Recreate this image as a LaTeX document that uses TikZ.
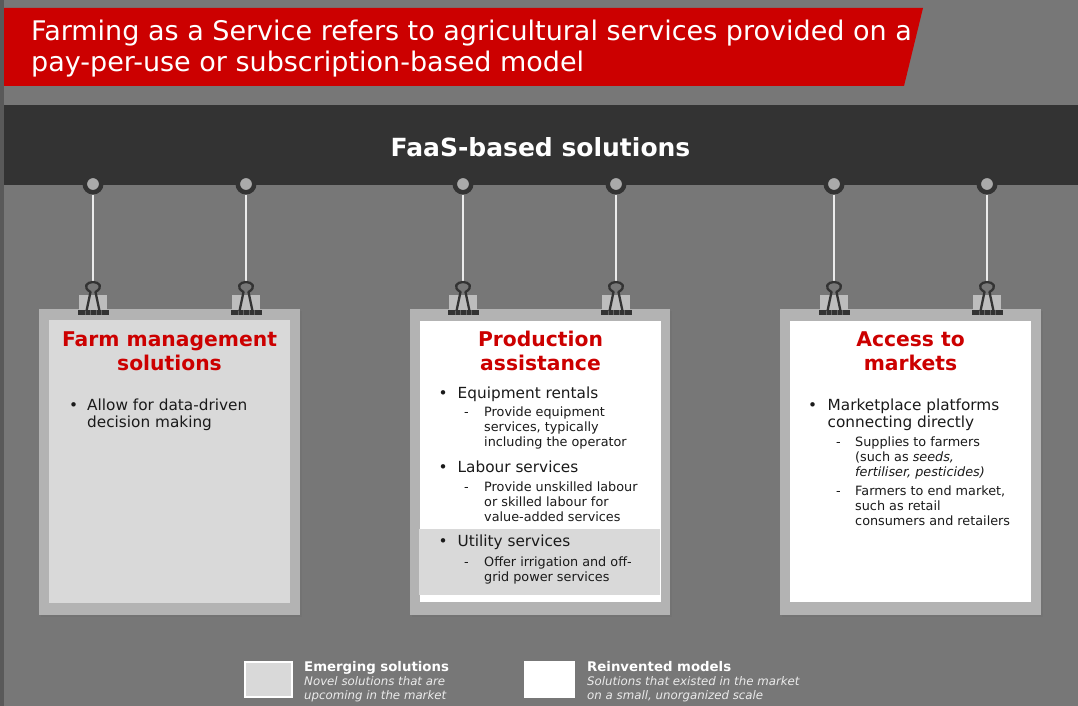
\documentclass[tikz,border=0pt]{standalone}
\usepackage{fontspec}
\setmainfont{DejaVu Sans}
\usepackage{tikz}
\usetikzlibrary{calc}
\definecolor{faasred}{HTML}{CC0000}
\definecolor{bggray}{HTML}{777777}
\definecolor{bardark}{HTML}{333333}
\definecolor{framegray}{HTML}{B3B3B3}
\definecolor{emerg}{HTML}{D9D9D9}
\definecolor{hooklight}{HTML}{AAAAAA}
\definecolor{clipgray}{HTML}{BDBDBD}
\definecolor{inkgray}{HTML}{1A1A1A}
\tikzstyle{hook} = [circle, draw=bardark, line width=4.5pt, fill=hooklight, inner sep=0pt, minimum size=16.5pt]
\tikzstyle{wire} = [draw=white!92!black, line width=2.2pt]
\tikzstyle{head} = [text=faasred, font=\bfseries\fontsize{20.3}{24}\selectfont, align=center, anchor=base, inner sep=0pt]
\tikzstyle{item} = [text=inkgray, font=\fontsize{15.3}{17.3}\selectfont, align=left, anchor=base west, inner sep=0pt]
\tikzstyle{sub} = [text=inkgray, font=\fontsize{12.8}{15}\selectfont, align=left, anchor=base west, inner sep=0pt]
\tikzstyle{legtext} = [text=white, align=left, anchor=base west, inner sep=0pt]

\begin{document}
\begin{tikzpicture}[x=1pt,y=-1pt]
		\useasboundingbox (0,0) rectangle (1078,706);
		% background, banner and bar
		\fill[bggray] (0,0) rectangle (1078,706);
		\fill[black!65] (0,0) rectangle (4,706);
		\fill[faasred] (4,8) -- (923,8) -- (904,86) -- (4,86) -- cycle;
		% base of a multi-line node = baseline of its last line
		\node[text=white, font=\fontsize{27}{31}\selectfont, align=left, anchor=base west, inner sep=0pt] (title) at (31,72)
			{Farming as a Service refers to agricultural services provided on a\\pay-per-use or subscription-based model};
		\fill[bardark] (4,105) rectangle (1078,185);
		\node[text=white, font=\bfseries\fontsize{25}{30}\selectfont, anchor=base, inner sep=0pt] (faas) at (540.5,156) {FaaS-based solutions};
		% hooks and wires
		\foreach \i/\x in {1/93,2/246,3/463,4/616,5/834,6/987}{
			\coordinate (c\i) at (\x,282);
			\node[hook] (h\i) at (\x,184) {};
			\draw[wire] (h\i) -- (c\i);
		}
		% boards
		\foreach \a/\b in {39/300,410/670,780/1041}{
			\fill[black!55] (\a+2,311) rectangle (\b+2,617);
			\fill[framegray] (\a,309) rectangle (\b,615);
		}
		\fill[emerg] (49,320) rectangle (290,603);
		\fill[white] (420,321) rectangle (661,602);
		\fill[emerg] (419,529) rectangle (660,595);
		\fill[white] (790,321) rectangle (1031,602);
		% clips
		\foreach \i in {1,...,6}{
			\fill[clipgray] ($(c\i)+(-14,13)$) rectangle ($(c\i)+(14,27.5)$);
			\fill[bardark] ($(c\i)+(-15.5,27.5)$) rectangle ($(c\i)+(15.5,33)$);
			\foreach \t in {-8,-3,3,8}
				\draw[black!60, line width=0.6pt] ($(c\i)+(\t,28)$) -- ($(c\i)+(\t,32.5)$);
			\draw[bardark, line width=2.3pt, line join=round]
				($(c\i)+(-6.5,29)$) -- ($(c\i)+(-2.5,10)$) .. controls ($(c\i)+(-11,5)$) and ($(c\i)+(-6,0)$) .. ($(c\i)+(0,0)$)
				.. controls ($(c\i)+(6,0)$) and ($(c\i)+(11,5)$) .. ($(c\i)+(2.5,10)$) -- ($(c\i)+(6.5,29)$);
		}
		% board texts
		\node[head] (fm) at (169.5,370) {Farm management\\solutions};
		\node[item] (fmb) at (69,410) {•};
		\node[item] (fm1) at (87,427.3) {Allow for data-driven\\decision making};
		\node[head] (pa) at (540.5,370) {Production\\assistance};
		\node[item] (pab1) at (438.5,398) {•};
		\node[item] (pa1) at (457.5,398) {Equipment rentals};
		\node[sub] (pad1) at (464,416.5) {-};
		\node[sub] (pa11) at (484,446.5) {Provide equipment\\services, typically\\including the operator};
		\node[item] (pab2) at (438.5,472.5) {•};
		\node[item] (pa2) at (457.5,472.5) {Labour services};
		\node[sub] (pad2) at (464,491.5) {-};
		\node[sub] (pa21) at (484,521.5) {Provide unskilled labour\\or skilled labour for\\value-added services};
		\node[item] (pab3) at (438.5,546.5) {•};
		\node[item] (pa3) at (457.5,546.5) {Utility services};
		\node[sub] (pad3) at (464,566.5) {-};
		\node[sub] (pa31) at (484,581.5) {Offer irrigation and off-\\grid power services};
		\node[head] (am) at (910.5,370) {Access to\\markets};
		\node[item] (amb) at (808,410) {•};
		\node[item] (am1) at (827.5,427.3) {Marketplace platforms\\connecting directly};
		\node[sub] (amd1) at (836,446.5) {-};
		\node[sub] (am11) at (855,476.5) {Supplies to farmers\\(such as \textit{seeds,}\\\textit{fertiliser, pesticides)}};
		\node[sub] (amd2) at (836,495) {-};
		\node[sub] (am21) at (855,525) {Farmers to end market,\\such as retail\\consumers and retailers};
		% legend
		\filldraw[fill=emerg, draw=white, line width=2.5pt] (245,662) rectangle (292,697);
		\filldraw[fill=white, draw=white, line width=2.5pt] (525,662) rectangle (574,697);
		\node[legtext, font=\bfseries\fontsize{13.3}{14}\selectfont] (em) at (304,671) {Emerging solutions};
		\node[legtext, font=\itshape\fontsize{11.8}{14.2}\selectfont, text=white!92!black] (emt) at (304,699.2) {Novel solutions that are\\upcoming in the market};
		\node[legtext, font=\bfseries\fontsize{13.3}{14}\selectfont] (rm) at (587,671) {Reinvented models};
		\node[legtext, font=\itshape\fontsize{11.8}{14.2}\selectfont, text=white!92!black] (rmt) at (587,699.2) {Solutions that existed in the market\\on a small, unorganized scale};
	\end{tikzpicture}
\end{document}
